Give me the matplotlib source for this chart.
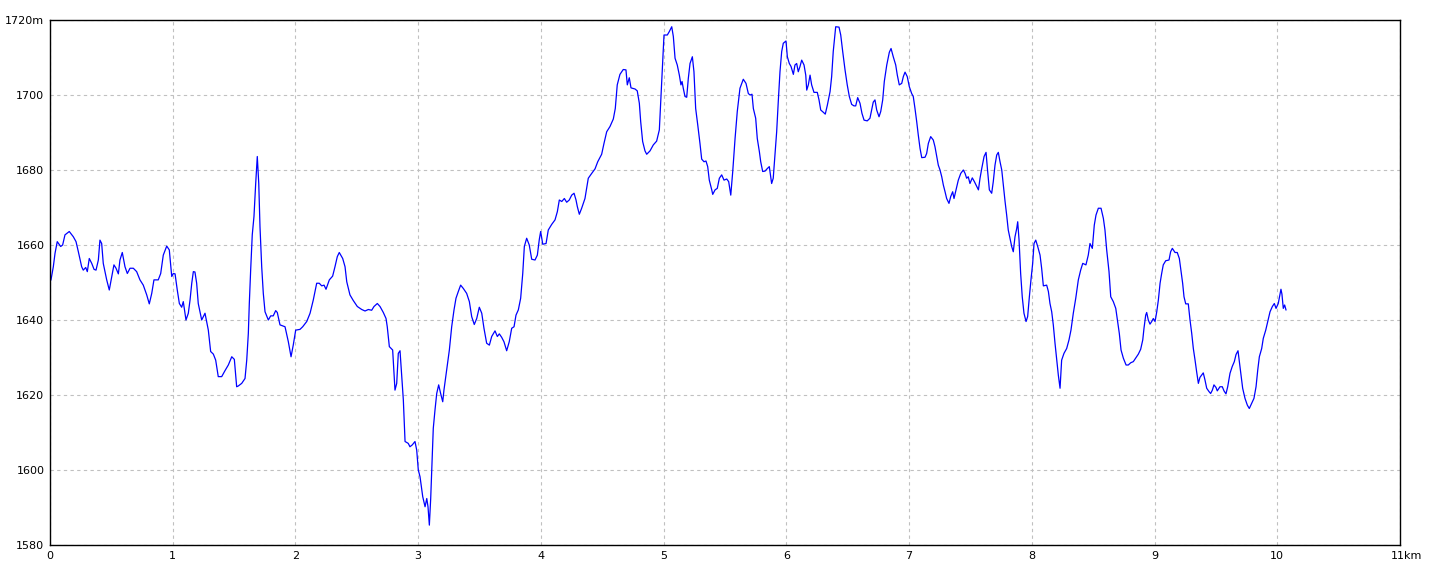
import matplotlib
matplotlib.use("Agg")
import matplotlib.pyplot as plt
from matplotlib.transforms import ScaledTranslation

# distance (km) and elevation (m)
dist_km = [
    0.008, 0.027, 0.041, 0.059, 0.087, 0.103, 0.122, 0.157, 0.190, 0.212,
    0.231, 0.258, 0.271, 0.291, 0.304, 0.320, 0.340, 0.359, 0.375, 0.394,
    0.407, 0.421, 0.434, 0.462, 0.483, 0.503, 0.521, 0.538, 0.557, 0.570,
    0.589, 0.611, 0.630, 0.652, 0.679, 0.706, 0.733, 0.760, 0.788, 0.809,
    0.829, 0.847, 0.882, 0.902, 0.923, 0.951, 0.972, 0.992, 1.005, 1.019,
    1.037, 1.054, 1.073, 1.086, 1.108, 1.127, 1.141, 1.155, 1.168, 1.181,
    1.195, 1.208, 1.236, 1.263, 1.290, 1.309, 1.331, 1.350, 1.371, 1.399,
    1.426, 1.453, 1.481, 1.502, 1.521, 1.534, 1.562, 1.589, 1.603, 1.616,
    1.624, 1.635, 1.648, 1.662, 1.676, 1.689, 1.701, 1.711, 1.725, 1.738,
    1.752, 1.779, 1.798, 1.819, 1.839, 1.852, 1.874, 1.915, 1.942, 1.964,
    1.982, 2.002, 2.037, 2.059, 2.092, 2.119, 2.145, 2.173, 2.194, 2.214,
    2.233, 2.249, 2.276, 2.303, 2.322, 2.341, 2.357, 2.385, 2.404, 2.418,
    2.444, 2.471, 2.504, 2.540, 2.567, 2.594, 2.621, 2.640, 2.667, 2.689,
    2.716, 2.738, 2.748, 2.765, 2.792, 2.811, 2.825, 2.838, 2.852, 2.866,
    2.879, 2.893, 2.919, 2.933, 2.952, 2.974, 2.988, 3.001, 3.015, 3.037,
    3.056, 3.070, 3.080, 3.091, 3.102, 3.113, 3.123, 3.137, 3.151, 3.167,
    3.183, 3.200, 3.210, 3.232, 3.254, 3.273, 3.292, 3.308, 3.327, 3.346,
    3.368, 3.395, 3.417, 3.436, 3.457, 3.477, 3.498, 3.518, 3.536, 3.558,
    3.580, 3.599, 3.626, 3.645, 3.661, 3.680, 3.699, 3.721, 3.742, 3.762,
    3.781, 3.797, 3.816, 3.835, 3.852, 3.865, 3.884, 3.905, 3.925, 3.952,
    3.971, 3.987, 3.998, 4.015, 4.042, 4.060, 4.088, 4.115, 4.134, 4.150,
    4.170, 4.191, 4.210, 4.231, 4.251, 4.270, 4.286, 4.297, 4.313, 4.332,
    4.359, 4.386, 4.414, 4.441, 4.463, 4.495, 4.514, 4.536, 4.563, 4.590,
    4.606, 4.622, 4.644, 4.671, 4.693, 4.704, 4.720, 4.734, 4.767, 4.785,
    4.802, 4.813, 4.829, 4.848, 4.862, 4.889, 4.916, 4.943, 4.965, 4.976,
    4.992, 5.003, 5.030, 5.046, 5.066, 5.079, 5.093, 5.111, 5.128, 5.141,
    5.150, 5.160, 5.174, 5.188, 5.201, 5.215, 5.234, 5.247, 5.261, 5.278,
    5.296, 5.310, 5.329, 5.345, 5.359, 5.372, 5.392, 5.400, 5.419, 5.437,
    5.454, 5.473, 5.492, 5.514, 5.530, 5.547, 5.563, 5.582, 5.600, 5.622,
    5.649, 5.671, 5.690, 5.704, 5.720, 5.731, 5.750, 5.763, 5.780, 5.791,
    5.807, 5.826, 5.845, 5.861, 5.880, 5.893, 5.907, 5.921, 5.934, 5.948,
    5.962, 5.975, 5.997, 6.008, 6.024, 6.038, 6.057, 6.070, 6.084, 6.097,
    6.111, 6.125, 6.144, 6.158, 6.166, 6.179, 6.193, 6.206, 6.225, 6.252,
    6.266, 6.280, 6.301, 6.317, 6.334, 6.356, 6.369, 6.382, 6.402, 6.429,
    6.443, 6.459, 6.478, 6.496, 6.513, 6.532, 6.551, 6.565, 6.581, 6.600,
    6.616, 6.633, 6.659, 6.681, 6.695, 6.708, 6.722, 6.736, 6.755, 6.769,
    6.785, 6.798, 6.818, 6.839, 6.853, 6.871, 6.891, 6.904, 6.920, 6.940,
    6.953, 6.967, 6.985, 7.002, 7.021, 7.034, 7.048, 7.062, 7.075, 7.089,
    7.103, 7.130, 7.143, 7.157, 7.176, 7.197, 7.211, 7.225, 7.238, 7.252,
    7.266, 7.279, 7.293, 7.306, 7.325, 7.339, 7.355, 7.366, 7.382, 7.401,
    7.421, 7.442, 7.456, 7.469, 7.482, 7.496, 7.515, 7.532, 7.551, 7.565,
    7.578, 7.592, 7.611, 7.627, 7.638, 7.654, 7.673, 7.686, 7.700, 7.714,
    7.727, 7.741, 7.755, 7.768, 7.782, 7.795, 7.808, 7.822, 7.836, 7.849,
    7.863, 7.877, 7.885, 7.896, 7.909, 7.922, 7.936, 7.953, 7.966, 7.980,
    7.993, 8.007, 8.018, 8.032, 8.048, 8.067, 8.080, 8.094, 8.121, 8.135,
    8.148, 8.162, 8.175, 8.189, 8.203, 8.216, 8.230, 8.243, 8.262, 8.284,
    8.303, 8.319, 8.338, 8.358, 8.379, 8.398, 8.415, 8.441, 8.460, 8.474,
    8.493, 8.509, 8.523, 8.542, 8.564, 8.583, 8.596, 8.610, 8.629, 8.643,
    8.664, 8.684, 8.697, 8.713, 8.727, 8.746, 8.768, 8.786, 8.806, 8.827,
    8.849, 8.868, 8.887, 8.904, 8.914, 8.928, 8.936, 8.949, 8.963, 8.977,
    8.990, 9.004, 9.018, 9.031, 9.045, 9.058, 9.071, 9.091, 9.118, 9.131,
    9.145, 9.167, 9.185, 9.202, 9.216, 9.229, 9.240, 9.254, 9.275, 9.289,
    9.303, 9.316, 9.330, 9.343, 9.357, 9.370, 9.384, 9.397, 9.411, 9.425,
    9.444, 9.457, 9.471, 9.484, 9.501, 9.511, 9.533, 9.552, 9.566, 9.582,
    9.596, 9.615, 9.633, 9.650, 9.664, 9.680, 9.691, 9.702, 9.718, 9.737,
    9.756, 9.772, 9.792, 9.810, 9.827, 9.841, 9.854, 9.873, 9.886, 9.906,
    9.922, 9.941, 9.960, 9.976, 9.990, 10.008, 10.022, 10.030, 10.038, 10.049,
    10.060, 10.071,
]

elev_m = [
    1650.7, 1654.2, 1657.8, 1660.9, 1659.6, 1660.0, 1662.7, 1663.6, 1662.2, 1660.9,
    1658.2, 1654.2, 1653.3, 1654.0, 1652.9, 1656.4, 1655.1, 1653.5, 1653.3, 1656.0,
    1661.3, 1660.4, 1655.1, 1650.7, 1648.0, 1651.6, 1654.7, 1653.8, 1652.3, 1656.0,
    1658.0, 1654.2, 1652.4, 1653.8, 1653.8, 1652.9, 1650.7, 1649.3, 1646.7, 1644.3,
    1647.1, 1650.7, 1650.7, 1652.4, 1657.3, 1659.7, 1658.7, 1651.6, 1652.4, 1652.3,
    1648.0, 1644.4, 1643.4, 1644.9, 1640.0, 1641.8, 1645.3, 1649.8, 1652.9, 1652.8,
    1649.8, 1644.4, 1640.0, 1641.8, 1637.3, 1631.6, 1630.9, 1629.3, 1624.9, 1624.9,
    1626.5, 1628.0, 1630.2, 1629.5, 1622.2, 1622.4, 1623.1, 1624.4, 1629.3, 1636.4,
    1644.4, 1653.3, 1662.7, 1667.6, 1676.4, 1683.6, 1676.4, 1664.9, 1654.2, 1647.1,
    1642.2, 1640.0, 1641.1, 1641.1, 1642.5, 1642.0, 1638.7, 1638.2, 1634.2, 1630.2,
    1633.3, 1637.3, 1637.5, 1638.2, 1639.6, 1641.8, 1645.3, 1649.8, 1649.8, 1649.1,
    1649.3, 1648.2, 1650.7, 1651.7, 1654.2, 1656.9, 1658.0, 1656.4, 1654.2, 1650.2,
    1646.7, 1645.2, 1643.6, 1642.8, 1642.4, 1642.8, 1642.6, 1643.6, 1644.4, 1643.6,
    1642.0, 1640.4, 1638.2, 1632.9, 1632.0, 1621.3, 1623.1, 1631.1, 1631.8, 1624.9,
    1618.7, 1607.6, 1607.1, 1606.2, 1606.7, 1607.6, 1605.3, 1600.0, 1598.2, 1592.9,
    1590.2, 1592.4, 1590.2, 1585.3, 1592.4, 1602.2, 1611.1, 1616.0, 1620.4, 1622.7,
    1620.4, 1618.2, 1621.3, 1626.7, 1632.0, 1638.2, 1642.7, 1645.8, 1647.6, 1649.3,
    1648.4, 1647.1, 1644.9, 1640.9, 1638.8, 1640.4, 1643.4, 1641.8, 1637.8, 1633.8,
    1633.3, 1635.6, 1637.1, 1635.6, 1636.3, 1635.4, 1634.2, 1631.8, 1634.2, 1637.8,
    1638.2, 1641.3, 1642.7, 1645.8, 1652.4, 1659.6, 1661.8, 1660.0, 1656.2, 1656.0,
    1657.3, 1661.5, 1663.6, 1660.2, 1660.4, 1664.0, 1665.5, 1666.7, 1668.9, 1672.0,
    1671.6, 1672.4, 1671.4, 1672.0, 1673.3, 1673.8, 1672.0, 1670.2, 1668.2, 1669.8,
    1672.4, 1677.8, 1679.1, 1680.3, 1682.2, 1684.2, 1687.1, 1690.2, 1691.6, 1693.6,
    1696.4, 1702.7, 1705.5, 1706.8, 1706.7, 1702.7, 1704.6, 1701.9, 1701.6, 1701.1,
    1697.8, 1692.9, 1687.6, 1685.1, 1684.2, 1685.1, 1686.7, 1687.7, 1690.7, 1698.2,
    1708.9, 1716.0, 1716.0, 1716.9, 1718.2, 1715.6, 1709.8, 1708.0, 1705.3, 1702.7,
    1703.6, 1701.8, 1699.6, 1699.4, 1704.4, 1708.4, 1710.2, 1706.2, 1696.4, 1692.0,
    1687.1, 1682.9, 1682.2, 1682.4, 1680.9, 1677.3, 1674.7, 1673.5, 1674.7, 1675.1,
    1677.8, 1678.7, 1677.3, 1677.6, 1676.9, 1673.3, 1679.6, 1688.4, 1695.6, 1701.8,
    1704.2, 1703.1, 1700.4, 1700.0, 1700.2, 1696.4, 1693.8, 1688.4, 1684.9, 1682.2,
    1679.6, 1679.7, 1680.4, 1680.9, 1676.4, 1677.8, 1684.0, 1690.2, 1698.2, 1706.2,
    1711.6, 1713.8, 1714.4, 1710.2, 1708.4, 1707.6, 1705.5, 1708.0, 1708.4, 1706.2,
    1707.6, 1709.3, 1708.0, 1705.3, 1701.3, 1702.7, 1705.3, 1702.7, 1700.7, 1700.7,
    1698.7, 1696.0, 1695.4, 1694.9, 1697.3, 1700.9, 1704.9, 1711.6, 1718.2, 1718.1,
    1716.0, 1711.6, 1706.7, 1702.7, 1699.6, 1697.5, 1697.1, 1697.1, 1699.3, 1697.8,
    1695.1, 1693.3, 1693.1, 1693.8, 1696.0, 1698.1, 1698.7, 1696.0, 1694.2, 1695.6,
    1698.7, 1703.6, 1708.0, 1711.4, 1712.4, 1710.2, 1708.0, 1705.3, 1702.7, 1703.1,
    1704.9, 1706.1, 1704.9, 1702.2, 1700.4, 1699.6, 1696.4, 1692.9, 1689.3, 1685.8,
    1683.3, 1683.4, 1684.4, 1687.1, 1688.9, 1688.0, 1686.2, 1683.6, 1681.3, 1680.0,
    1678.2, 1676.0, 1674.2, 1672.4, 1671.1, 1672.9, 1674.2, 1672.4, 1674.7, 1677.3,
    1679.1, 1680.0, 1679.1, 1677.8, 1678.2, 1676.4, 1677.9, 1676.9, 1675.6, 1674.7,
    1677.8, 1680.4, 1683.6, 1684.7, 1680.4, 1674.7, 1673.8, 1676.9, 1681.3, 1684.0,
    1684.7, 1682.2, 1680.0, 1676.0, 1671.6, 1668.0, 1664.0, 1661.8, 1659.6, 1658.2,
    1662.2, 1664.4, 1666.2, 1661.3, 1652.4, 1646.2, 1641.8, 1639.6, 1640.9, 1646.2,
    1650.7, 1655.1, 1660.4, 1661.3, 1659.6, 1657.3, 1653.8, 1649.1, 1649.3, 1647.6,
    1644.4, 1642.2, 1638.7, 1633.8, 1629.3, 1625.3, 1621.8, 1629.3, 1631.1, 1632.4,
    1634.7, 1637.3, 1641.8, 1645.8, 1650.7, 1653.3, 1655.1, 1654.7, 1657.3, 1660.4,
    1659.1, 1665.3, 1668.0, 1669.8, 1669.8, 1667.1, 1664.0, 1658.7, 1652.9, 1646.2,
    1644.9, 1643.1, 1640.0, 1636.4, 1632.0, 1629.8, 1628.0, 1628.0, 1628.6, 1628.9,
    1630.0, 1630.9, 1632.2, 1634.7, 1637.8, 1641.3, 1642.0, 1640.0, 1638.9, 1639.6,
    1640.4, 1639.6, 1642.2, 1645.3, 1649.8, 1652.4, 1654.7, 1655.8, 1656.0, 1658.2,
    1659.1, 1658.0, 1658.0, 1656.4, 1652.9, 1649.8, 1646.2, 1644.3, 1644.3, 1640.0,
    1636.4, 1632.4, 1629.3, 1626.2, 1623.1, 1624.7, 1625.3, 1625.9, 1624.0, 1621.8,
    1620.9, 1620.4, 1621.3, 1622.7, 1622.0, 1621.1, 1622.2, 1622.2, 1621.1, 1620.3,
    1622.2, 1625.8, 1627.6, 1628.9, 1630.8, 1631.8, 1628.9, 1625.8, 1621.8, 1619.1,
    1617.3, 1616.4, 1617.8, 1619.1, 1622.2, 1626.7, 1630.2, 1632.4, 1635.1, 1637.3,
    1639.6, 1642.2, 1643.6, 1644.4, 1643.1, 1644.4, 1646.9, 1648.2, 1646.9, 1643.1,
    1644.0, 1642.7,
]

x_ticks = list(range(0, 12))
x_labels = [str(k) for k in range(0, 11)] + ["11km"]
y_ticks = [1580, 1600, 1620, 1640, 1660, 1680, 1700, 1720]
y_labels = ["1580", "1600", "1620", "1640", "1660", "1680", "1700", "1720m"]

fig = plt.figure(figsize=(14.4, 5.76), dpi=100)
ax = fig.add_axes([50 / 1440, 1 - 545 / 576, 1350 / 1440, 525 / 576])

ax.plot(dist_km, elev_m, color="#0000ff", linewidth=0.9)

ax.set_xlim(0, 11)
ax.set_ylim(1580, 1720)
ax.set_xticks(x_ticks)
ax.set_xticklabels(x_labels)
ax.set_yticks(y_ticks)
ax.set_yticklabels(y_labels)
ax.tick_params(length=0, labelsize=8, pad=4, colors="black")

# the "11km" label sits a little right of its tick
last = ax.get_xticklabels()[-1]
last.set_transform(last.get_transform() + ScaledTranslation(7 / 100, 0, fig.dpi_scale_trans))

ax.grid(True, color="#c0c0c0", linestyle=(0, (3, 3)), linewidth=0.8)
ax.set_axisbelow(True)
for s in ax.spines.values():
    s.set_color("black")
    s.set_linewidth(1)

fig.savefig("out.png", dpi=100)
